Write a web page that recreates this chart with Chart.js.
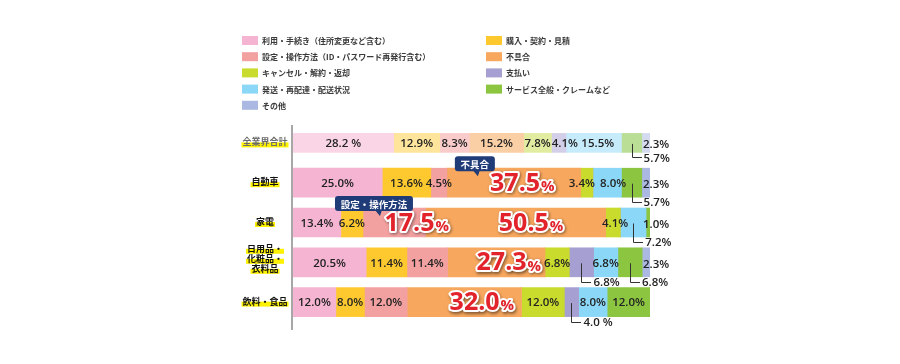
<!DOCTYPE html>
<html>
<head>
<meta charset="utf-8">
<script src="https://cdn.jsdelivr.net/npm/chart.js@4.4.1/dist/chart.umd.min.js"></script>
<style>
  html, body { margin: 0; padding: 0; background: #fff; }
  #wrap { width: 900px; height: 364px; }
</style>
</head>
<body>
<div id="wrap"><canvas id="chart" width="900" height="364"></canvas></div>
<script>
/* ---------- data ---------- */
const industries = ['全業界合計', '自動車', '家電', '日用品・\n化粧品・\n衣料品', '飲料・食品'];
const categories = [
  '利用・手続き（住所変更など含む）',
  '購入・契約・見積',
  '設定・操作方法（ID・パスワード再発行含む）',
  '不具合',
  'キャンセル・解約・返却',
  '支払い',
  '発送・再配達・配送状況',
  'サービス全般・クレームなど',
  'その他',
];
const usage    = [28.2, 25.0, 13.4, 20.5, 12.0];
const purchase = [12.9, 13.6,  6.2, 11.4,  8.0];
const setup    = [ 8.3,  4.5, 17.5, 11.4, 12.0];
const defect   = [15.2, 37.5, 50.5, 27.3, 32.0];
const cancel   = [ 7.8,  3.4,  4.1,  6.8, 12.0];
const payment  = [ 4.1,  0,    0,    6.8,  4.0];
const shipping = [15.5,  8.0,  7.2,  6.8,  8.0];
const service  = [ 5.7,  5.7,  1.0,  6.8, 12.0];
const other    = [ 2.3,  2.3,  0,    2.3,  0];
const series = [usage, purchase, setup, defect, cancel, payment, shipping, service, other];

/* ---------- styling ---------- */
const COLORS = ['#f5b5d2', '#fec92e', '#f3a0a0', '#f7a75e', '#c9dc2d', '#a69fd1', '#8ad7f7', '#8cc540', '#abb8e2'];
const PALE   = ['#fad5e5', '#fee59b', '#f9cccb', '#fbcfa5', '#e2eca0', '#d3cfe9', '#c6ebfb', '#bade96', '#d4dbf1'];

// label treatment per "row:category"
const labelMode = {
  '0:7': 'leader', '0:8': 'side',
  '1:3': 'big', '1:7': 'leader', '1:8': 'side',
  '2:2': 'big', '2:3': 'big', '2:6': 'leader', '2:7': 'side',
  '3:3': 'big', '3:5': 'leader', '3:7': 'leader', '3:8': 'side',
  '4:3': 'big', '4:5': 'leader',
};
// small nudges so neighbouring labels do not collide
const labelShift = {
  '0:5': 6, '0:6': 4, '1:4': -5, '1:6': 6, '2:4': 2,
  '1:3': 8, '2:2': 22, '2:3': 15, '3:3': 12, '4:3': 17,
};
const spacedPct = { '0:0': true, '4:5': true };
const callouts = [
  { row: 1, cat: 3, text: '不具合', dx: 8, w: 40, ptr: 18 },
  { row: 2, cat: 2, text: '設定・操作方法', dx: -28, w: 78, ptr: 40 },
];

const NUM_FONT = '"Open Sans", "Liberation Sans", sans-serif';
const JP_FONT = '"Noto Sans CJK JP", "Noto Sans", sans-serif';

/* ---------- datasets: pale row for the total, vivid for the rest ---------- */
const datasets = [];
series.forEach((vals, ci) => {
  datasets.push({
    label: categories[ci], cat: ci,
    data: vals.map((v, r) => (r === 0 ? v : null)),
    backgroundColor: PALE[ci], borderWidth: 0, barThickness: 19, stack: 's',
  });
  datasets.push({
    label: categories[ci], cat: ci,
    data: vals.map((v, r) => (r === 0 ? null : v)),
    backgroundColor: COLORS[ci], borderWidth: 0, barThickness: 29, stack: 's',
  });
});

function fmt(v, key) {
  return v.toFixed(1) + (spacedPct[key] ? ' %' : '%');
}

/* ---------- plugins ---------- */
const legendPlugin = {
  id: 'gridLegend',
  beforeDraw(chart) {
    const ctx = chart.ctx;
    ctx.save();
    ctx.font = 'bold 8px ' + JP_FONT;
    ctx.textBaseline = 'middle';
    categories.forEach((name, i) => {
      const x = i % 2 === 0 ? 242 : 486;
      const y = 40.5 + Math.floor(i / 2) * 16.2;
      ctx.fillStyle = COLORS[i];
      ctx.fillRect(x, y - 4.5, 16, 9);
      ctx.fillStyle = '#3a3a3a';
      ctx.fillText(name, x + 20, y + 0.5);
    });
    ctx.restore();
  },
};

const axisPlugin = {
  id: 'rowAxis',
  afterDraw(chart) {
    const ctx = chart.ctx;
    const area = chart.chartArea;
    const yScale = chart.scales.y;
    ctx.save();
    ctx.strokeStyle = '#8a8a8a';
    ctx.lineWidth = 1.5;
    ctx.beginPath();
    ctx.moveTo(area.left - 1, area.top + 2);
    ctx.lineTo(area.left - 1, area.bottom + 8);
    ctx.stroke();

    ctx.font = 'bold 9px ' + JP_FONT;
    ctx.textAlign = 'center';
    ctx.textBaseline = 'middle';
    industries.forEach((name, r) => {
      const lines = name.split('\n');
      const cy = yScale.getPixelForValue(r) - (lines.length > 1 ? 4 : 1);
      const cx = area.left - 28;
      lines.forEach((ln, li) => {
        const y = cy + (li - (lines.length - 1) / 2) * 10;
        const w = ctx.measureText(ln).width;
        ctx.fillStyle = '#fff200';
        ctx.fillRect(cx - w / 2 - 1, y + 0.5, w + 2, 5);
        ctx.fillStyle = r === 0 ? '#6b6b6b' : '#111';
        ctx.fillText(ln, cx, y);
      });
    });
    ctx.restore();
  },
};

function drawBig(ctx, text, cx, cy) {
  const num = text.replace('%', '');
  ctx.font = 'bold 25px ' + NUM_FONT;
  const wn = ctx.measureText(num).width;
  ctx.font = 'bold 15px ' + NUM_FONT;
  const wp = ctx.measureText('%').width;
  const x0 = cx - (wn + wp) / 2;
  const parts = [[num, 'bold 25px ', x0, cy + 1], ['%', 'bold 15px ', x0 + wn + 1, cy + 4]];
  ctx.textAlign = 'left';
  ctx.textBaseline = 'middle';
  ctx.lineJoin = 'round';
  parts.forEach(([t, f, x, y]) => {
    ctx.font = f + NUM_FONT;
    ctx.save();
    ctx.shadowColor = 'rgba(0,0,0,0.45)';
    ctx.shadowBlur = 3;
    ctx.shadowOffsetX = 1;
    ctx.shadowOffsetY = 1.5;
    ctx.strokeStyle = '#fff';
    ctx.lineWidth = 4;
    ctx.strokeText(t, x, y);
    ctx.restore();
    ctx.fillStyle = '#e3232b';
    ctx.fillText(t, x, y);
  });
}

const labelPlugin = {
  id: 'segLabels',
  afterDatasetsDraw(chart) {
    const ctx = chart.ctx;
    const area = chart.chartArea;
    ctx.save();
    chart.data.datasets.forEach((ds, di) => {
      const meta = chart.getDatasetMeta(di);
      meta.data.forEach((bar, r) => {
        const v = ds.data[r];
        if (!v) return;
        const { x, y, base, height } = bar.getProps(['x', 'y', 'base', 'height'], true);
        const key = r + ':' + ds.cat;
        const mode = labelMode[key] || 'in';
        const text = fmt(v, key);
        const cx = (x + base) / 2;
        const shift = labelShift[key] || 0;
        if (mode === 'big') {
          drawBig(ctx, text, cx + shift, y);
          return;
        }
        ctx.font = '600 11.5px ' + NUM_FONT;
        ctx.fillStyle = '#222';
        ctx.textBaseline = 'middle';
        if (mode === 'in') {
          ctx.textAlign = 'center';
          ctx.fillText(text, cx + shift, y + 1);
        } else if (mode === 'side') {
          ctx.textAlign = 'left';
          ctx.fillText(text, area.right - 7, y + 2);
        } else if (mode === 'leader') {
          const ly = y + height / 2 + 5;
          ctx.strokeStyle = '#333';
          ctx.lineWidth = 1;
          ctx.beginPath();
          ctx.moveTo(Math.round(cx) + 0.5, y + 1);
          ctx.lineTo(Math.round(cx) + 0.5, Math.round(ly) + 0.5);
          ctx.lineTo(Math.round(cx) + 10, Math.round(ly) + 0.5);
          ctx.stroke();
          ctx.textAlign = 'left';
          ctx.fillText(text, cx + 12, ly + 1);
        }
      });
    });

    // speech-bubble callouts
    callouts.forEach(c => {
      const di = datasets.findIndex(d => d.cat === c.cat && d.data[c.row] != null);
      const bar = chart.getDatasetMeta(di).data[c.row];
      const { y, base, height } = bar.getProps(['y', 'base', 'height'], true);
      const left = base + c.dx;
      const bottom = y - height / 2 + 3;
      const h = 15;
      ctx.fillStyle = '#1f3b78';
      ctx.beginPath();
      ctx.roundRect(left, bottom - h, c.w, h, 3);
      ctx.fill();
      ctx.beginPath();
      ctx.moveTo(left + c.ptr, bottom - 1);
      ctx.lineTo(left + c.ptr + 7, bottom - 1);
      ctx.lineTo(left + c.ptr + 5, bottom + 5);
      ctx.closePath();
      ctx.fill();
      ctx.fillStyle = '#fff';
      ctx.font = 'bold 9.5px ' + JP_FONT;
      ctx.textAlign = 'center';
      ctx.textBaseline = 'middle';
      ctx.fillText(c.text, left + c.w / 2, bottom - h / 2 + 0.5);
    });
    ctx.restore();
  },
};

/* ---------- chart ---------- */
new Chart(document.getElementById('chart').getContext('2d'), {
  type: 'bar',
  data: { labels: industries, datasets },
  options: {
    responsive: false,
    animation: false,
    devicePixelRatio: 1,
    indexAxis: 'y',
    layout: { padding: { left: 293, right: 250, top: 123, bottom: 42 } },
    scales: {
      x: { stacked: true, min: 0, max: 100, display: false },
      y: { stacked: true, display: false },
    },
    plugins: {
      legend: { display: false },
      tooltip: { enabled: false },
    },
  },
  plugins: [legendPlugin, axisPlugin, labelPlugin],
});
</script>
</body>
</html>
